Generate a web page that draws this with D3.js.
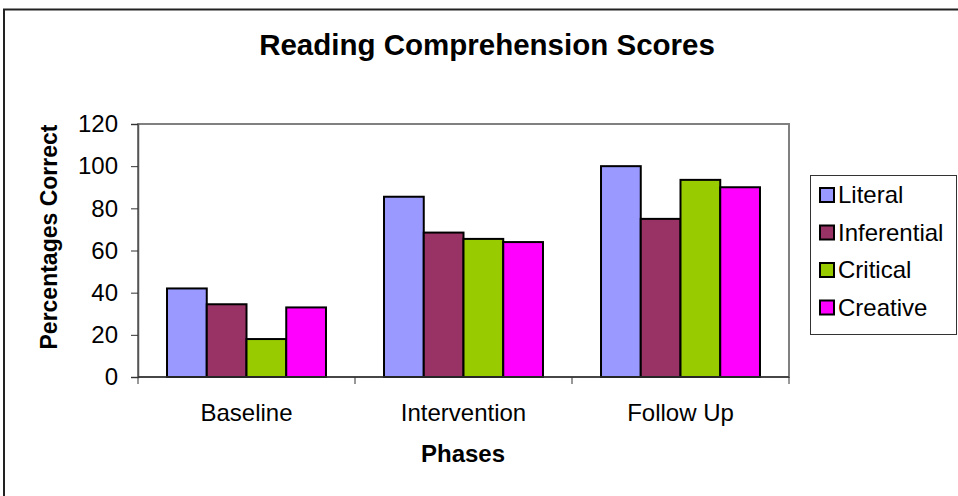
<!DOCTYPE html>
<html>
<head>
<meta charset="utf-8">
<script src="https://cdn.jsdelivr.net/npm/d3@7"></script>
<style>
  body { margin: 0; background: #fff; }
  text { font-family: Arial, "Liberation Sans", sans-serif; fill: #000; }
</style>
</head>
<body>
<svg class="vis-container"></svg>
<script>
// data
const phases = ["Baseline", "Intervention", "Follow Up"];
const seriesNames = ["Literal", "Inferential", "Critical", "Creative"];
const literal = [42, 85.5, 100];
const inferential = [34.5, 68.5, 75];
const critical = [18, 65.5, 93.5];
const creative = [33, 64, 90];
const seriesColors = ["#9999ff", "#993366", "#99cc00", "#ff00ff"];
const yTicks = [0, 20, 40, 60, 80, 100, 120];

const width = 958;
const height = 496;
const plot = {left: 138, right: 789, top: 124, bottom: 377};

const svg = d3.select('.vis-container')
  .attr('width', width)
  .attr('height', height);

// chart border (runs off the right and bottom of the picture)
svg.append('rect')
  .attr('x', 4).attr('y', 9.5)
  .attr('width', 1000).attr('height', 600)
  .attr('fill', 'none')
  .attr('stroke', '#222')
  .attr('stroke-width', 2);

const x = d3.scaleBand().domain(phases).range([plot.left, plot.right]);
const y = d3.scaleLinear().domain([0, 120]).range([plot.bottom, plot.top]);
// gap width ~150% of a bar
const xInner = d3.scaleBand().domain(seriesNames)
  .range([0, x.bandwidth()]).paddingOuter(0.73);

// plot area frame
svg.append('rect')
  .attr('x', plot.left).attr('y', plot.top)
  .attr('width', plot.right - plot.left).attr('height', plot.bottom - plot.top)
  .attr('fill', 'none')
  .attr('stroke', '#808080')
  .attr('stroke-width', 2);

const table = seriesNames.map((name, i) => ({
  name: name,
  color: seriesColors[i],
  values: [literal, inferential, critical, creative][i]
}));

const groups = svg.selectAll('.series')
  .data(table)
  .enter()
  .append('g')
  .attr('class', 'series');

groups.selectAll('rect')
  .data(s => s.values.map((v, j) => ({series: s, phase: phases[j], value: v})))
  .enter()
  .append('rect')
    .attr('x', d => x(d.phase) + xInner(d.series.name))
    .attr('y', d => y(d.value))
    .attr('width', xInner.bandwidth())
    .attr('height', d => y(0) - y(d.value))
    .attr('fill', d => d.series.color)
    .attr('stroke', '#000')
    .attr('stroke-width', 2);

// y axis
const yAxis = svg.append('g')
  .attr('transform', `translate(${plot.left},0)`)
  .call(d3.axisLeft(y).tickValues(yTicks).tickSize(7).tickPadding(13).tickFormat(d3.format('d')));
yAxis.select('.domain').attr('stroke', '#555').attr('stroke-width', 1.5);
yAxis.selectAll('.tick line').attr('stroke', '#333');
yAxis.selectAll('text').style('font-size', '24px').attr('font-family', 'Arial, "Liberation Sans", sans-serif');

// x axis, ticks between categories
const xAxis = svg.append('g')
  .attr('transform', `translate(0,${plot.bottom})`);
xAxis.append('line')
  .attr('x1', plot.left).attr('x2', plot.right)
  .attr('stroke', '#333').attr('stroke-width', 1.5);
xAxis.selectAll('.tk')
  .data(phases.map(p => x(p)).concat([plot.right]))
  .enter()
  .append('line')
    .attr('x1', d => d).attr('x2', d => d)
    .attr('y1', 0).attr('y2', 7)
    .attr('stroke', '#333');
xAxis.selectAll('.lbl')
  .data(phases)
  .enter()
  .append('text')
    .attr('x', d => x(d) + x.bandwidth() / 2)
    .attr('y', 44)
    .attr('text-anchor', 'middle')
    .style('font-size', '24px')
    .text(d => d);

// titles
svg.append('text')
  .attr('x', 487).attr('y', 55)
  .attr('text-anchor', 'middle')
  .style('font-size', '29.5px').style('font-weight', 'bold')
  .text('Reading Comprehension Scores');

svg.append('text')
  .attr('x', 463).attr('y', 462)
  .attr('text-anchor', 'middle')
  .style('font-size', '24px').style('font-weight', 'bold')
  .text('Phases');

svg.append('text')
  .attr('transform', 'translate(57,237) rotate(-90)')
  .attr('text-anchor', 'middle')
  .style('font-size', '23px').style('font-weight', 'bold')
  .text('Percentages Correct');

// legend
const legend = svg.append('g').attr('transform', 'translate(810,175)');
legend.append('rect')
  .attr('x', 0.5).attr('y', 0.5)
  .attr('width', 146).attr('height', 159)
  .attr('fill', '#fff')
  .attr('stroke', '#333');
const item = legend.selectAll('.item')
  .data(table)
  .enter()
  .append('g')
  .attr('class', 'item')
  .attr('transform', (d, i) => `translate(10,${20 + i * 37.5})`);
item.append('rect')
  .attr('x', 0).attr('y', -7)
  .attr('width', 14).attr('height', 14)
  .attr('fill', d => d.color)
  .attr('stroke', '#000')
  .attr('stroke-width', 2);
item.append('text')
  .attr('x', 18).attr('y', 8)
  .style('font-size', '24px')
  .text(d => d.name);
</script>
</body>
</html>
